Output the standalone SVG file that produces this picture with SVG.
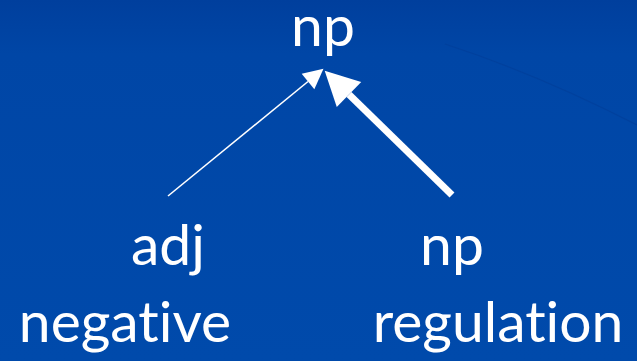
<svg xmlns="http://www.w3.org/2000/svg" width="637" height="361" viewBox="0 0 637 361">
<style>
  .lbl { font-family: Lato, "Liberation Sans", sans-serif; font-size: 57px; fill: #ffffff; text-anchor: middle; font-variant-ligatures: none; font-feature-settings: "liga" 0, "clig" 0; }
  .edge { stroke: #ffffff; fill: none; }
</style>
<defs>
  <linearGradient id="bg" x1="0" y1="0" x2="0" y2="1">
    <stop offset="0" stop-color="#003f9d"/>
    <stop offset="0.15" stop-color="#0046a6"/>
    <stop offset="1" stop-color="#004aab"/>
  </linearGradient>
  <marker id="headThin" markerUnits="userSpaceOnUse" markerWidth="24" markerHeight="24" viewBox="0 -12 22 24" refX="0" refY="0" orient="auto" overflow="visible">
    <path d="M0,-10 L20,0 L0,10 z" fill="#ffffff"/>
  </marker>
  <marker id="headThick" markerUnits="userSpaceOnUse" markerWidth="40" markerHeight="40" viewBox="0 -20 38 40" refX="0" refY="0" orient="auto" overflow="visible">
    <path d="M0,-17.5 L34,0 L0,17.5 z" fill="#ffffff"/>
  </marker>
</defs>
<rect x="0" y="0" width="637" height="361" fill="url(#bg)"/>
<path d="M445,44 Q540,75 637,125" stroke="#003e98" stroke-width="1.2" fill="none" opacity="0.6"/>
<g id="connectors">
  <line class="edge" x1="168" y1="196" x2="308" y2="81.5" stroke-width="1.6" marker-end="url(#headThin)"/>
  <line class="edge" x1="452" y1="195" x2="349" y2="94.5" stroke-width="7" marker-end="url(#headThick)"/>
</g>
<g id="node-np-top">
  <text class="lbl" x="323" y="46">np</text>
</g>
<g id="node-adj">
  <text class="lbl" x="168" y="265">adj</text>
  <text class="lbl" x="125" y="342">negative</text>
</g>
<g id="node-np">
  <text class="lbl" x="452" y="265">np</text>
  <text class="lbl" x="498" y="342">regulation</text>
</g>
</svg>
